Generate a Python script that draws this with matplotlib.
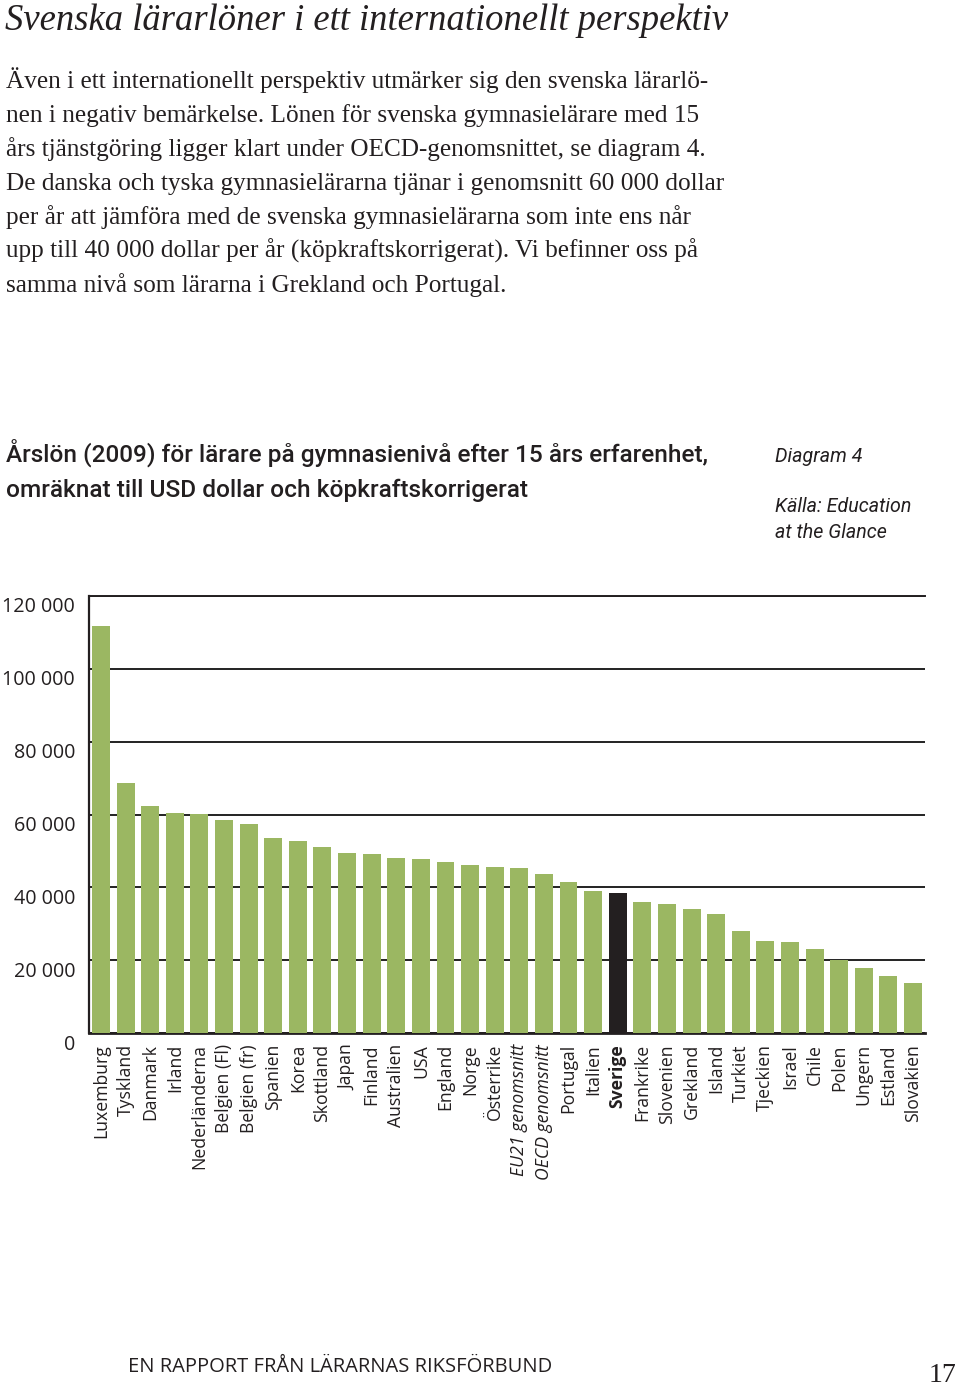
import matplotlib
matplotlib.use("Agg")
import matplotlib.pyplot as plt
from matplotlib.transforms import ScaledTranslation

# ---------------- data ----------------
countries = ["Luxemburg", "Tyskland", "Danmark", "Irland", "Nederländerna",
             "Belgien (Fl)", "Belgien (fr)", "Spanien", "Korea", "Skottland",
             "Japan", "Finland", "Australien", "USA", "England", "Norge",
             "Österrike", "EU21 genomsnitt", "OECD genomsnitt", "Portugal",
             "Italien", "Sverige", "Frankrike", "Slovenien", "Grekland",
             "Island", "Turkiet", "Tjeckien", "Israel", "Chile", "Polen",
             "Ungern", "Estland", "Slovakien"]
salaries = [111800, 68600, 62200, 60300, 60100, 58400, 57500, 53600, 52600,
            51200, 49300, 49100, 48100, 47900, 47000, 46100, 45600, 45300,
            43600, 41600, 39000, 38400, 36000, 35300, 34100, 32600, 27900,
            25400, 24900, 23100, 20100, 17800, 15700, 13700]
highlight = "Sverige"
italic_labels = ["EU21 genomsnitt", "OECD genomsnitt"]
yticks = [0, 20000, 40000, 60000, 80000, 100000, 120000]
ytick_labels = ["0", "20 000", "40 000", "60 000", "80 000", "100 000", "120 000"]

heading = "Svenska lärarlöner i ett internationellt perspektiv"
body = ["Även i ett internationellt perspektiv utmärker sig den svenska lärarlö-",
        "nen i negativ bemärkelse. Lönen för svenska gymnasielärare med 15",
        "års tjänstgöring ligger klart under OECD-genomsnittet, se diagram 4.",
        "De danska och tyska gymnasielärarna tjänar i genomsnitt 60 000 dollar",
        "per år att jämföra med de svenska gymnasielärarna som inte ens når",
        "upp till 40 000 dollar per år (köpkraftskorrigerat). Vi befinner oss på",
        "samma nivå som lärarna i Grekland och Portugal."]
chart_title = ["Årslön (2009) för lärare på gymnasienivå efter 15 års erfarenhet,",
               "omräknat till USD dollar och köpkraftskorrigerat"]
diagram_no = "Diagram 4"
source = ["Källa: Education", "at the Glance"]
footer = "EN RAPPORT FRÅN LÄRARNAS RIKSFÖRBUND"
page_no = "17"

# ---------------- style ----------------
GREEN = "#9bb762"
BLACK = "#231f20"
W, H = 960, 1389
DPI = 100

fig = plt.figure(figsize=(W / DPI, H / DPI), dpi=DPI)
fig.patch.set_facecolor("white")
renderer = fig.canvas.get_renderer()


def ptext(x, y, s, **kw):
    return fig.text(x / W, 1 - y / H, s, **kw)


def fit_size(s, width_px, size0=20, **kw):
    t = fig.text(0, 0, s, fontsize=size0, **kw)
    w = t.get_window_extent(renderer=renderer).width
    t.remove()
    return size0 * width_px / w


# ---------------- page texts ----------------
serif = ["Liberation Serif", "DejaVu Serif"]
fs_head = fit_size(heading, 723, family=serif, style="italic")
ptext(5, 30, heading, family=serif, style="italic", fontsize=fs_head,
      color=BLACK, va="baseline")

fs_body = fit_size(body[3], 718, family=serif)
for i, line in enumerate(body):
    ptext(6, 88 + 34 * i, line, family=serif, fontsize=fs_body,
          color=BLACK, va="baseline")

sans = ["Roboto", "DejaVu Sans"]
fs_ct = fit_size(chart_title[0], 702, family=sans, weight="medium")
ptext(6, 462, chart_title[0], family=sans, weight="medium", fontsize=fs_ct,
      color=BLACK, va="baseline")
ptext(6, 497, chart_title[1], family=sans, weight="medium", fontsize=fs_ct,
      color=BLACK, va="baseline")

fs_src = fit_size(source[0], 136, family=sans, style="italic")
ptext(775, 462, diagram_no, family=sans, style="italic", fontsize=fs_src,
      color=BLACK, va="baseline")
ptext(775, 512, source[0], family=sans, style="italic", fontsize=fs_src,
      color=BLACK, va="baseline")
ptext(775, 538, source[1], family=sans, style="italic", fontsize=fs_src,
      color=BLACK, va="baseline")

ptext(128, 1372, footer, family=["Open Sans", "DejaVu Sans"], fontsize=14.5,
      color=BLACK, va="baseline")
ptext(929, 1382, page_no, family=serif, fontsize=20, color=BLACK,
      va="baseline", ha="left")

# ---------------- chart ----------------
ax = fig.add_axes([89 / W, 356 / H, (925 - 89) / W, (1033 - 596) / H])
x = list(range(len(countries)))
colors = [BLACK if c == highlight else GREEN for c in countries]
ax.bar(x, salaries, width=0.73, color=colors, zorder=3)
ax.set_xlim(-0.49, len(countries) - 0.51)
ax.set_ylim(0, 120000)
ax.set_yticks(yticks)
ax.set_yticklabels(ytick_labels, family=["Open Sans", "DejaVu Sans"],
                   fontsize=14.2, color=BLACK)
ax.yaxis.grid(True, color="#222222", linewidth=1.4, zorder=0)
ax.set_axisbelow(True)
ax.tick_params(axis="y", length=0, pad=10)
ax.tick_params(axis="x", length=0, pad=8)
for side in ["left", "bottom", "top"]:
    ax.spines[side].set_color(BLACK)
ax.spines["left"].set_linewidth(1.6)
ax.spines["bottom"].set_linewidth(2.0)
ax.spines["top"].set_linewidth(1.4)
ax.spines["right"].set_visible(False)

ax.set_xticks(x)
ax.set_xticklabels(countries, rotation=90, ha="center", va="top",
                   family=["Open Sans", "DejaVu Sans"], fontsize=12.7, color=BLACK)
for lab in ax.get_xticklabels():
    if lab.get_text() == highlight:
        lab.set_fontweight("bold")
    if lab.get_text() in italic_labels:
        lab.set_fontstyle("italic")

shift = ScaledTranslation(0, -9 / DPI, fig.dpi_scale_trans)
for lab in ax.get_yticklabels():
    lab.set_transform(lab.get_transform() + shift)

fig.savefig("out.png", dpi=DPI, facecolor="white")
